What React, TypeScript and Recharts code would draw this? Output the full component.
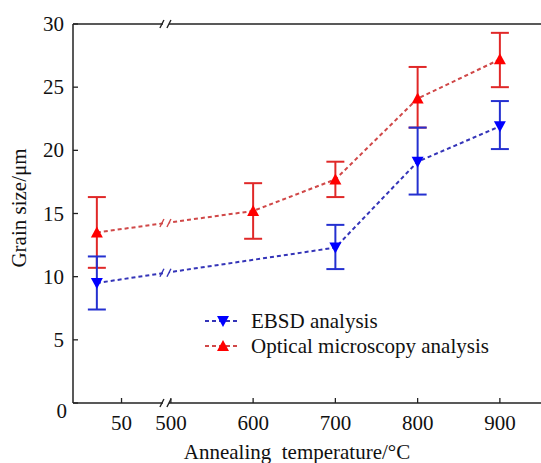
import React from "react";
import {
  ComposedChart,
  Line,
  XAxis,
  YAxis,
  ErrorBar,
  ReferenceLine,
  ReferenceDot,
} from "recharts";

// annealing temperatures (°C); first one is the as-received state
const temps = [20, 600, 700, 800, 900];
const xTicks = [50, 500, 600, 700, 800, 900];
const yTicks = [0, 5, 10, 15, 20, 25, 30];

const ebsd = [9.5, null, 12.3, 19.1, 21.9];
const ebsdErr = [
  [2.1, 2.1],
  null,
  [1.7, 1.8],
  [2.6, 2.7],
  [1.8, 2.0],
];
const optical = [13.5, 15.2, 17.7, 24.1, 27.2];
const opticalErr = [
  [2.8, 2.8],
  [2.2, 2.2],
  [1.4, 1.4],
  [2.3, 2.5],
  [2.2, 2.1],
];

// broken axis: everything from 500 up is shifted left
const GAP = 390;
const toPos = (t: number) => (t >= 500 ? t - GAP : t);
const BREAK_POS = 104;

const data = temps.map((t, i) => ({
  pos: toPos(t),
  ebsd: ebsd[i],
  ebsdErr: ebsdErr[i],
  optical: optical[i],
  opticalErr: opticalErr[i],
}));

// value of a series where it crosses the break
const atBreak = (vals: (number | null)[]) => {
  const pts = data.map((d, i) => [d.pos, vals[i]] as [number, number | null]).filter((p) => p[1] != null) as [number, number][];
  const a = pts[0];
  const b = pts[1];
  return a[1] + ((BREAK_POS - a[0]) / (b[0] - a[0])) * (b[1] - a[1]);
};

const SERIF = "Liberation Serif";
const html = { fontFamily: SERIF, fontSize: "21px", color: "#111", lineHeight: "26px", whiteSpace: "pre" as const };
const RED_LINE = "#d04848";
const RED = "#ff0000";
const BLUE_LINE = "#3434b8";
const BLUE = "#0000ff";

const FoText = ({ x, y, anchor, children }: any) => {
  const w = 80;
  const left = anchor === "end" ? x - w : x - w / 2;
  return (
    <foreignObject x={left} y={y - 13} width={w} height={26}>
      <div style={{ ...html, textAlign: anchor === "end" ? "right" : "center" }}>{children}</div>
    </foreignObject>
  );
};

const UpTri = (props: any) => {
  const { cx, cy, fill } = props;
  if (cx == null || cy == null || props.value == null) return null;
  return <path d={`M${cx},${cy - 6} L${cx + 6},${cy + 5} L${cx - 6},${cy + 5} Z`} fill={fill} />;
};
const DownTri = (props: any) => {
  const { cx, cy, fill } = props;
  if (cx == null || cy == null || props.value == null) return null;
  return <path d={`M${cx - 6},${cy - 5} L${cx + 6},${cy - 5} L${cx},${cy + 6} Z`} fill={fill} />;
};

const BreakMark = (color: string) => (props: any) => {
  const { cx, cy } = props;
  return (
    <g>
      <rect x={cx - 3} y={cy - 3} width={6} height={6} fill="#fff" />
      <line x1={cx - 6} y1={cy + 4} x2={cx - 2} y2={cy - 4} stroke={color} strokeWidth={1.4} />
      <line x1={cx + 1} y1={cy + 4} x2={cx + 5} y2={cy - 4} stroke={color} strokeWidth={1.4} />
    </g>
  );
};

const YTick = (props: any) => {
  const { x, y, payload } = props;
  const zero = payload.value === 0;
  return (
    <g>
      <line x1={x + 9} y1={y} x2={x + 14} y2={y} stroke="#222" strokeWidth={1.3} />
      <FoText x={zero ? x + 3 : x} y={zero ? y + 8 : y} anchor="end">
        {payload.value}
      </FoText>
    </g>
  );
};

const XTick = (props: any) => {
  const { x, y, payload } = props;
  const label = payload.value >= 110 ? payload.value + GAP : payload.value;
  return (
    <g>
      <line x1={x} y1={y} x2={x} y2={y - 5} stroke="#222" strokeWidth={1.3} />
      <FoText x={x} y={y + 20} anchor="middle">
        {label}
      </FoText>
    </g>
  );
};

const legendItems = [
  { name: "EBSD analysis", line: BLUE_LINE, fill: BLUE, down: true },
  { name: "Optical microscopy analysis", line: RED_LINE, fill: RED, down: false },
];

const LegendBox = () => (
  <div style={{ position: "absolute", left: 200, top: 308, width: 330 }}>
    {legendItems.map((it, i) => {
      const cx = 23;
      const y = 13;
      return (
        <div key={it.name} style={{ position: "absolute", left: 0, top: i * 25, height: 26, width: 330 }}>
          <svg width={45} height={26} style={{ position: "absolute", left: 0, top: 0 }}>
            <line x1={5} y1={y} x2={40} y2={y} stroke={it.line} strokeWidth={2} strokeDasharray="4 3" />
            {it.down ? (
              <path d={`M${cx - 6},${y - 5} L${cx + 6},${y - 5} L${cx},${y + 6} Z`} fill={it.fill} />
            ) : (
              <path d={`M${cx},${y - 6} L${cx + 6},${y + 5} L${cx - 6},${y + 5} Z`} fill={it.fill} />
            )}
          </svg>
          <div style={{ ...html, position: "absolute", left: 51, top: 0 }}>{it.name}</div>
        </div>
      );
    })}
  </div>
);

export default function App() {
  return (
    <div style={{ position: "absolute", left: 0, top: 0, width: 541, height: 463, background: "#fff", overflow: "hidden", fontFamily: SERIF }}>
      <ComposedChart width={541} height={463} data={data} margin={{ top: 24, right: 0, bottom: 0, left: 0 }}>
        <XAxis
          dataKey="pos"
          type="number"
          domain={[-9, 560]}
          ticks={xTicks.map(toPos)}
          tick={<XTick />}
          tickLine={false}
          tickSize={0}
          tickMargin={0}
          axisLine={{ stroke: "#222", strokeWidth: 1.5 }}
          height={60}
          allowDataOverflow
        />
        <YAxis
          type="number"
          domain={[0, 30]}
          ticks={yTicks}
          width={73}
          tick={<YTick />}
          tickLine={false}
          tickSize={0}
          tickMargin={9}
          axisLine={{ stroke: "#222", strokeWidth: 1.5 }}
        />
        <ReferenceLine y={30} stroke="#222" strokeWidth={1.5} />
        <Line
          dataKey="optical"
          stroke={RED_LINE}
          strokeWidth={2}
          strokeDasharray="4 3"
          fill={RED}
          dot={<UpTri fill={RED} />}
          activeDot={false}
          isAnimationActive={false}
        >
          <ErrorBar dataKey="opticalErr" width={9} stroke="#e02828" strokeWidth={2} direction="y" />
        </Line>
        <Line
          dataKey="ebsd"
          stroke={BLUE_LINE}
          strokeWidth={2}
          strokeDasharray="4 3"
          fill={BLUE}
          connectNulls
          dot={<DownTri fill={BLUE} />}
          activeDot={false}
          isAnimationActive={false}
        >
          <ErrorBar dataKey="ebsdErr" width={9} stroke="#2430d0" strokeWidth={2} direction="y" />
        </Line>
        <ReferenceDot x={BREAK_POS} y={30} r={0} shape={BreakMark("#222")} ifOverflow="visible" />
        <ReferenceDot x={BREAK_POS} y={0} r={0} shape={BreakMark("#222")} ifOverflow="visible" />
        <ReferenceDot x={BREAK_POS} y={atBreak(optical)} r={0} shape={BreakMark(RED_LINE)} />
        <ReferenceDot x={BREAK_POS} y={atBreak(ebsd)} r={0} shape={BreakMark(BLUE_LINE)} />
      </ComposedChart>
      <LegendBox />
      <div style={{ ...html, position: "absolute", left: 97, top: 439, width: 400, textAlign: "center" }}>
        {"Annealing  temperature/°C"}
      </div>
      <div
        style={{
          ...html,
          position: "absolute",
          left: -81,
          top: 195,
          width: 200,
          textAlign: "center",
          transform: "rotate(-90deg)",
        }}
      >
        Grain size/μm
      </div>
    </div>
  );
}
